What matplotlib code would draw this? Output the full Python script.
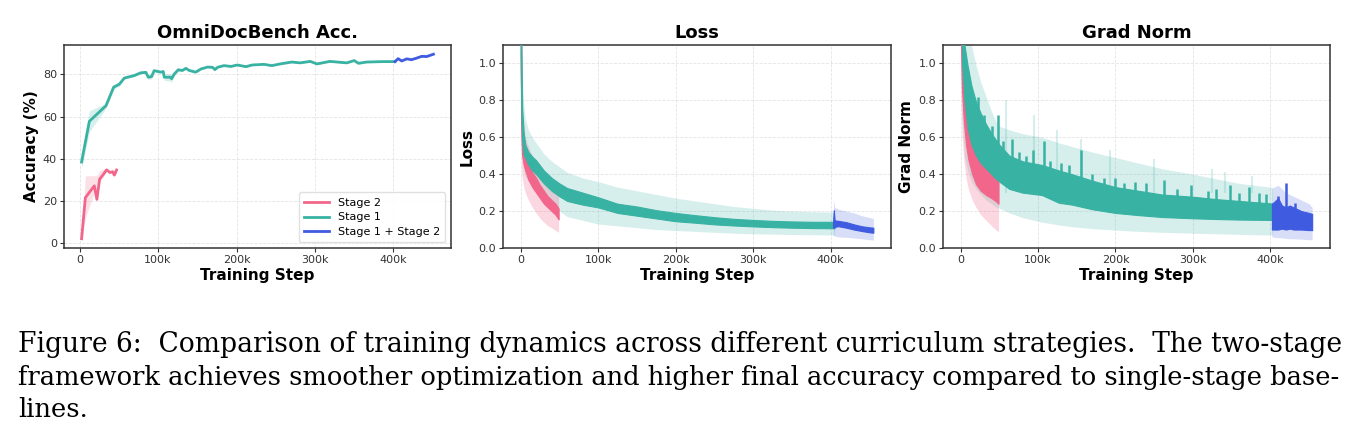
import numpy as np
import matplotlib
matplotlib.use("Agg")
import matplotlib.pyplot as plt
from matplotlib.ticker import FuncFormatter

# colours
PINK = "#F2668B"
TEAL = "#38B2A3"
BLUE = "#3F5BDF"

# ---------------- accuracy (steps in k) ----------------
s2_acc_steps = [2.5, 7.3, 18.7, 22, 25.5, 30, 34.4, 38.7, 42, 44.2, 47.1]
s2_acc = [2.1, 21.6, 27.2, 20.8, 30.4, 32.5, 34.8, 33.5, 33.9, 32.3, 34.7]
s2_acc_lo = [2.1, 12, 24, 20, 29, 31.5, 34, 33, 33.3, 31.5, 33.5]
s2_acc_hi = [2.1, 32, 32, 32, 34.5, 35, 35.3, 34.5, 34.8, 34.5, 36]

s1_acc_steps = [2.5, 12.4, 33.6, 43.4, 50.6, 57, 69.7, 78, 84.5, 87.5, 91.7, 95,
                103.6, 106.6, 107.9, 115.5, 117.2, 120.6, 125.7, 131, 135.5, 139.7,
                148, 154.6, 163, 169.4, 172.5, 175.8, 184, 193, 201, 212, 220, 235,
                245, 255.7, 270.5, 281, 294, 302.5, 319, 340.6, 350, 355.4, 366, 387, 402]
s1_acc = [38.5, 57.8, 65.2, 74, 75.4, 78.3, 79.5, 80.8, 81, 78.7, 79, 81.8,
          81.1, 81.4, 78.7, 78.7, 78, 80.2, 82.2, 81.9, 82.9, 81.9,
          81.1, 82.6, 83.5, 83.4, 82.3, 83.4, 84.2, 83.8, 84.5, 83.7, 84.5, 84.8,
          84.2, 85, 85.9, 85.5, 86.2, 85, 86.2, 85.5, 86.6, 85.3, 85.9, 86.1, 86.1]
s1_acc_spread = [3, 5, 1.2, 1, 1, 0.5, 0.5, 0.4, 0.4, 1.3, 1, 0.4,
                 0.4, 0.4, 1.5, 1.8, 1.8, 1, 0.4, 0.4, 0.3, 0.3,
                 0.3, 0.3, 0.3, 0.3, 0.3, 0.3, 0.3, 0.3, 0.3, 0.3, 0.3, 0.3,
                 0.3, 0.3, 0.3, 0.3, 0.3, 0.3, 0.3, 0.3, 0.3, 0.3, 0.3, 0.3, 0.3]

s12_acc_steps = [402, 406, 410.6, 417, 423, 430, 436, 442.5, 451]
s12_acc = [86.1, 87.5, 86.4, 87.4, 87, 87.8, 88.6, 88.5, 89.6]

# ---------------- loss ----------------
s2_loss_steps = [0, 1, 2, 4, 6, 10, 15, 20, 25, 30, 35, 40, 45, 49]
s2_loss_lo = [1.0, 0.6, 0.5, 0.45, 0.42, 0.37, 0.33, 0.30, 0.27, 0.24, 0.22, 0.2, 0.18, 0.155]
s2_loss_hi = [2.0, 0.85, 0.6, 0.53, 0.49, 0.45, 0.41, 0.38, 0.34, 0.31, 0.28, 0.26, 0.24, 0.215]
s2_loss_band_lo = [0.8, 0.45, 0.38, 0.33, 0.30, 0.26, 0.22, 0.19, 0.16, 0.14, 0.12, 0.11, 0.095, 0.085]
s2_loss_band_hi = [2.0, 1.1, 0.8, 0.68, 0.6, 0.55, 0.5, 0.46, 0.42, 0.39, 0.36, 0.33, 0.31, 0.29]

s1_loss_steps = [0, 1, 2, 4, 6, 10, 15, 20, 30, 40, 50, 60, 80, 100, 125, 150, 175,
                 200, 225, 250, 275, 300, 325, 350, 375, 400, 405]
s1_loss_lo = [1.05, 0.7, 0.58, 0.5, 0.49, 0.45, 0.42, 0.40, 0.35, 0.31, 0.28, 0.255, 0.235,
              0.22, 0.19, 0.175, 0.16, 0.145, 0.137, 0.128, 0.122, 0.117, 0.113, 0.11, 0.108, 0.107, 0.107]
s1_loss_hi = [2.0, 1.1, 0.75, 0.62, 0.56, 0.52, 0.495, 0.475, 0.42, 0.38, 0.35, 0.325, 0.30,
              0.275, 0.24, 0.225, 0.205, 0.19, 0.178, 0.167, 0.158, 0.152, 0.147, 0.144, 0.142, 0.142, 0.142]
s1_loss_band_lo = [0.9, 0.55, 0.48, 0.42, 0.39, 0.36, 0.34, 0.32, 0.27, 0.23, 0.2, 0.17, 0.15,
                   0.13, 0.12, 0.11, 0.1, 0.095, 0.09, 0.085, 0.08, 0.077, 0.075, 0.073, 0.072, 0.07, 0.07]
s1_loss_band_hi = [2.0, 1.1, 0.9, 0.78, 0.70, 0.64, 0.60, 0.57, 0.51, 0.47, 0.44, 0.41, 0.38,
                   0.36, 0.33, 0.31, 0.29, 0.27, 0.255, 0.24, 0.225, 0.215, 0.205, 0.2, 0.197, 0.195, 0.195]

s12_loss_steps = [403, 404, 405, 410, 420, 430, 440, 450, 455]
s12_loss_lo = [0.11, 0.11, 0.115, 0.118, 0.11, 0.1, 0.092, 0.085, 0.083]
s12_loss_hi = [0.14, 0.205, 0.15, 0.147, 0.14, 0.128, 0.118, 0.112, 0.11]
s12_loss_band_lo = [0.07, 0.07, 0.065, 0.06, 0.058, 0.054, 0.05, 0.045, 0.043]
s12_loss_band_hi = [0.195, 0.26, 0.22, 0.21, 0.2, 0.19, 0.175, 0.165, 0.16]

# ---------------- grad norm ----------------
s2_gn_steps = [0, 2, 4, 7, 10, 15, 20, 26, 33, 40, 45, 49]
s2_gn_lo = [1.2, 0.85, 0.7, 0.56, 0.48, 0.4, 0.345, 0.31, 0.287, 0.27, 0.255, 0.24]
s2_gn_hi = [2.0, 1.2, 1.0, 0.92, 0.8, 0.68, 0.6, 0.54, 0.5, 0.47, 0.45, 0.43]
s2_gn_band_lo = [0.9, 0.6, 0.48, 0.38, 0.32, 0.26, 0.22, 0.18, 0.15, 0.12, 0.1, 0.088]

s1_gn_steps = [0, 2, 5, 9, 14, 20, 26, 33, 40, 45, 50, 63, 80, 105, 127, 144, 170,
               200, 230, 260, 300, 330, 360, 400, 403]
s1_gn_lo = [1.5, 1.0, 0.8, 0.65, 0.56, 0.50, 0.46, 0.43, 0.40, 0.377, 0.36, 0.32, 0.30,
            0.287, 0.245, 0.235, 0.21, 0.19, 0.178, 0.168, 0.161, 0.157, 0.154, 0.152, 0.152]
s1_gn_hi = [2.0, 1.3, 1.1, 0.99, 0.88, 0.79, 0.73, 0.67, 0.62, 0.59, 0.56, 0.50, 0.47,
            0.45, 0.42, 0.40, 0.365, 0.33, 0.31, 0.29, 0.278, 0.265, 0.255, 0.242, 0.24]
s1_gn_band_lo = [1.0, 0.7, 0.5, 0.42, 0.36, 0.32, 0.29, 0.26, 0.24, 0.225, 0.215, 0.19, 0.165,
                 0.14, 0.125, 0.115, 0.105, 0.097, 0.09, 0.085, 0.08, 0.077, 0.074, 0.07, 0.07]
s1_gn_band_hi = [2.0, 2.0, 1.5, 1.2, 1.1, 0.99, 0.9, 0.82, 0.74, 0.69, 0.66, 0.64, 0.62,
                 0.60, 0.57, 0.55, 0.52, 0.49, 0.46, 0.43, 0.40, 0.375, 0.35, 0.33, 0.33]
s1_gn_spike_steps = [22, 30, 40, 48, 55, 67, 75, 85, 94, 108, 115, 130, 140, 155, 170,
                     185, 200, 211, 225, 240, 263, 280, 297, 320, 330, 348, 360, 372, 385, 395]
s1_gn_spike_tops = [0.82, 0.72, 0.66, 0.72, 0.58, 0.59, 0.52, 0.50, 0.53, 0.58, 0.47, 0.46,
                    0.45, 0.53, 0.40, 0.38, 0.38, 0.35, 0.36, 0.35, 0.37, 0.32, 0.34, 0.31,
                    0.32, 0.34, 0.30, 0.33, 0.30, 0.29]
s1_gn_light_spike_steps = [59, 95, 125, 156, 193, 250, 325, 342, 376]
s1_gn_light_spike_tops = [0.80, 0.72, 0.64, 0.59, 0.53, 0.48, 0.43, 0.41, 0.39]

s12_gn_steps = [402, 405, 410, 415, 420, 425, 430, 440, 450, 454]
s12_gn_lo = [0.1, 0.1, 0.1, 0.105, 0.1, 0.105, 0.1, 0.1, 0.097, 0.097]
s12_gn_hi = [0.24, 0.25, 0.27, 0.23, 0.22, 0.23, 0.22, 0.2, 0.19, 0.185]
s12_gn_band_lo = [0.06, 0.058, 0.056, 0.055, 0.052, 0.05, 0.05, 0.048, 0.045, 0.045]
s12_gn_band_hi = [0.32, 0.33, 0.34, 0.32, 0.3, 0.29, 0.28, 0.26, 0.24, 0.22]
s12_gn_spike_steps = [410, 420.5, 432]
s12_gn_spike_tops = [0.28, 0.35, 0.245]

caption = [
    "Figure 6:  Comparison of training dynamics across different curriculum strategies.  The two-stage",
    "framework achieves smoother optimization and higher final accuracy compared to single-stage base-",
    "lines.",
]


def k(v):
    return np.array(v) * 1000


def kfmt(x, pos):
    return "0" if x == 0 else f"{int(round(x / 1000))}k"


def style(ax, title, ylabel):
    ax.set_title(title, fontsize=13, fontweight="bold", pad=5)
    ax.set_xlabel("Training Step", fontsize=11, fontweight="bold", labelpad=2)
    ax.set_ylabel(ylabel, fontsize=11, fontweight="bold", labelpad=3)
    ax.grid(True, linestyle="--", color="#dddddd", linewidth=0.6, alpha=0.8)
    ax.set_axisbelow(True)
    ax.xaxis.set_major_formatter(FuncFormatter(kfmt))
    ax.set_xticks([0, 100000, 200000, 300000, 400000])
    ax.tick_params(labelsize=8, length=3, width=0.8, colors="#333333", pad=2)
    for sp in ax.spines.values():
        sp.set_color("#333333")
        sp.set_linewidth(1.1)


def light(ax, steps, blo, bhi, color, alpha=0.2):
    ax.fill_between(k(steps), blo, bhi, color=color, alpha=alpha, linewidth=0, zorder=1)


def dark(ax, steps, lo, hi, color, z=3):
    ax.fill_between(k(steps), lo, hi, color=color, linewidth=0.8, edgecolor=color, zorder=z)


def spikes(ax, steps, tops, st, lo, hi, color, z=3):
    mid = (np.interp(steps, st, lo) + np.interp(steps, st, hi)) / 2
    ax.vlines(k(steps), mid, tops, color=color, lw=1.8, zorder=z)


fig = plt.figure(figsize=(13.61, 4.46), dpi=100)
H = 446
W = 1361
ax1 = fig.add_axes([64 / W, 1 - 248 / H, 387 / W, 203 / H])
ax2 = fig.add_axes([503 / W, 1 - 248 / H, 388 / W, 203 / H])
ax3 = fig.add_axes([943 / W, 1 - 248 / H, 387 / W, 203 / H])

# panel 1: accuracy
a = np.array(s1_acc)
sp_ = np.array(s1_acc_spread)
ax1.fill_between(k(s2_acc_steps), s2_acc_lo, s2_acc_hi, color=PINK, alpha=0.2, linewidth=0)
ax1.fill_between(k(s1_acc_steps), a - sp_, a + sp_, color=TEAL, alpha=0.2, linewidth=0)
ax1.plot(k(s2_acc_steps), s2_acc, color=PINK, lw=2, label="Stage 2")
ax1.plot(k(s1_acc_steps), s1_acc, color=TEAL, lw=2, label="Stage 1")
ax1.plot(k(s12_acc_steps), s12_acc, color=BLUE, lw=2, label="Stage 1 + Stage 2")
ax1.set_yticks([0, 20, 40, 60, 80])
style(ax1, "OmniDocBench Acc.", "Accuracy (%)")
ax1.legend(loc="lower right", fontsize=8, frameon=True, framealpha=0.9,
           edgecolor="#dddddd", handlelength=2.2, borderpad=0.5, labelspacing=0.4)

# panel 2: loss
light(ax2, s1_loss_steps, s1_loss_band_lo, s1_loss_band_hi, TEAL)
light(ax2, s2_loss_steps, s2_loss_band_lo, s2_loss_band_hi, PINK, 0.25)
light(ax2, s12_loss_steps, s12_loss_band_lo, s12_loss_band_hi, BLUE)
dark(ax2, s2_loss_steps, s2_loss_lo, s2_loss_hi, PINK, 3)
dark(ax2, s1_loss_steps, s1_loss_lo, s1_loss_hi, TEAL, 4)
dark(ax2, s12_loss_steps, s12_loss_lo, s12_loss_hi, BLUE, 5)
ax2.set_ylim(0, 1.1)
ax2.set_yticks([0, 0.2, 0.4, 0.6, 0.8, 1.0])
style(ax2, "Loss", "Loss")
ax2.set_xlim(-22750, 477750)

# panel 3: grad norm
light(ax3, s1_gn_steps, s1_gn_band_lo, s1_gn_band_hi, TEAL)
ax3.vlines(k(s1_gn_light_spike_steps), 0.3, s1_gn_light_spike_tops, color=TEAL,
           alpha=0.2, lw=1.5, zorder=1)
light(ax3, s2_gn_steps, s2_gn_band_lo, s2_gn_hi, PINK, 0.25)
light(ax3, s12_gn_steps, s12_gn_band_lo, s12_gn_band_hi, BLUE)
dark(ax3, s2_gn_steps, s2_gn_lo, s2_gn_hi, PINK, 3)
dark(ax3, s1_gn_steps, s1_gn_lo, s1_gn_hi, TEAL, 4)
spikes(ax3, s1_gn_spike_steps, s1_gn_spike_tops, s1_gn_steps, s1_gn_lo, s1_gn_hi, TEAL, 4)
dark(ax3, s12_gn_steps, s12_gn_lo, s12_gn_hi, BLUE, 5)
spikes(ax3, s12_gn_spike_steps, s12_gn_spike_tops, s12_gn_steps, s12_gn_lo, s12_gn_hi, BLUE, 5)
ax3.set_ylim(0, 1.1)
ax3.set_yticks([0, 0.2, 0.4, 0.6, 0.8, 1.0])
style(ax3, "Grad Norm", "Grad Norm")
ax3.set_xlim(-22700, 477000)

# caption: full lines are sized to span the same width as in the paper
renderer = fig.canvas.get_renderer()
target = 1322
size = 19
for i, (line, yb) in enumerate(zip(caption, [351.7, 385, 416.7])):
    t = fig.text(18 / W, 1 - yb / H, line, fontsize=size, family="DejaVu Serif",
                 va="baseline", ha="left")
    if i < 2:
        w = t.get_window_extent(renderer).width
        t.set_fontsize(size * target / w)
    else:
        t.set_fontsize(18.5)

fig.savefig("out.png", dpi=100)
